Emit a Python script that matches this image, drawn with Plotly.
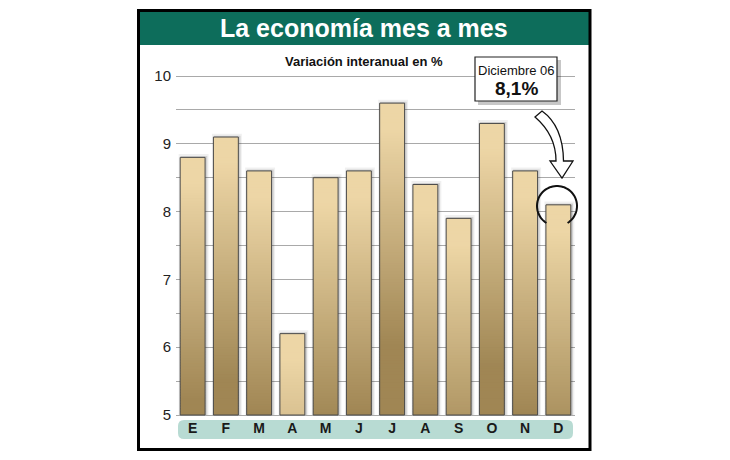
import numpy as np
import plotly.graph_objects as go

months = ["E", "F", "M", "A", "M ", "J", "J ", "A ", "S", "O", "N", "D"]
month_labels = ["E", "F", "M", "A", "M", "J", "J", "A", "S", "O", "N", "D"]
values = [8.8, 9.1, 8.6, 6.2, 8.5, 8.6, 9.6, 8.4, 7.9, 9.3, 8.6, 8.1]
y_ticks = [5, 6, 7, 8, 9, 10]
title_text = "La economía mes a mes"
subtitle_text = "Variación interanual en %"
callout_label = "Diciembre 06"
callout_value = "8,1%"

BASE = 5.0
FONT = "Liberation Sans, Arial, sans-serif"

# plot-area pixel geometry (10 -> y=76, 5 -> y=415, 2px padding each side)
L, R, T, B = 176, 575, 74, 417
W, H = R - L, B - T
UNIT = (415 - 76) / 5.0
PAD = 2 / UNIT


def px(x):
    return (x - L) / W


def py(y):
    return (B - y) / H


light = np.array([237, 214, 166])
dark = np.array([160, 134, 84])


def shade(top, y):
    d = np.clip((top - y - 0.4) / 3.2, 0, 1)
    c = light * (1 - d) + dark * d
    return "rgb(%d,%d,%d)" % tuple(c.astype(int))


# gradient segments built from the data
seg_x, seg_base, seg_h, seg_c = [], [], [], []
step = 0.04
for m, v in zip(months, values):
    b = BASE
    while b < v - 1e-9:
        h = min(step * 1.6, v - b)
        seg_x.append(m)
        seg_base.append(b)
        seg_h.append(h)
        seg_c.append(shade(v, b + step / 2))
        b += step

heights = [v - BASE for v in values]
fig = go.Figure()

# soft shadows
fig.add_trace(go.Bar(x=months, y=[h + 0.05 for h in heights], base=BASE,
                     width=0.9, offset=-0.42,
                     marker=dict(color="rgba(0,0,0,0.06)", line=dict(width=0)),
                     hoverinfo="skip"))
fig.add_trace(go.Bar(x=months, y=[h + 0.02 for h in heights], base=BASE,
                     width=0.8, offset=-0.36,
                     marker=dict(color="rgba(0,0,0,0.12)", line=dict(width=0)),
                     hoverinfo="skip"))
# gradient fill
fig.add_trace(go.Bar(x=seg_x, y=seg_h, base=seg_base, width=0.75,
                     marker=dict(color=seg_c, line=dict(width=0)),
                     hoverinfo="skip"))
# outline
fig.add_trace(go.Bar(x=months, y=heights, base=BASE, width=0.75,
                     marker=dict(color="rgba(0,0,0,0)",
                                 line=dict(color="#4a4a4a", width=1)),
                     hovertemplate="%{x}: %{y}<extra></extra>"))

shapes = []
# header band and frame
shapes.append(dict(type="rect", xref="paper", yref="paper",
                   x0=px(139), x1=px(590), y0=py(11), y1=py(45),
                   fillcolor="#0d6d5b", line=dict(width=0), layer="below"))
shapes.append(dict(type="rect", xref="paper", yref="paper",
                   x0=px(138.5), x1=px(590), y0=py(10.5), y1=py(449.5),
                   fillcolor="rgba(0,0,0,0)", line=dict(color="#000", width=3)))

# rounded band for month labels
x0, x1, y0, y1, r = 178, 573, 420, 439, 6
path = (f"M {px(x0 + r)},{py(y0)} L {px(x1 - r)},{py(y0)} "
        f"Q {px(x1)},{py(y0)} {px(x1)},{py(y0 + r)} L {px(x1)},{py(y1 - r)} "
        f"Q {px(x1)},{py(y1)} {px(x1 - r)},{py(y1)} L {px(x0 + r)},{py(y1)} "
        f"Q {px(x0)},{py(y1)} {px(x0)},{py(y1 - r)} L {px(x0)},{py(y0 + r)} "
        f"Q {px(x0)},{py(y0)} {px(x0 + r)},{py(y0)} Z")
shapes.append(dict(type="path", xref="paper", yref="paper", path=path,
                   fillcolor="#b8dbd3", line=dict(width=0), layer="below"))

# callout box with shadow
bx0, bx1, by0, by1 = 475, 557, 57, 101
shapes.append(dict(type="rect", xref="paper", yref="paper",
                   x0=px(bx0 + 3), x1=px(bx1 + 4), y0=py(by0 + 3), y1=py(by1 + 4),
                   fillcolor="rgba(0,0,0,0.22)", line=dict(width=0)))
shapes.append(dict(type="rect", xref="paper", yref="paper",
                   x0=px(bx0), x1=px(bx1), y0=py(by0), y1=py(by1),
                   fillcolor="white", line=dict(color="#222", width=1.2)))

# curved arrow
pts = ("M {a},{b} Q {c},{d} {e},{f} L {g},{h} L {i},{j} L {k},{l} L {m},{n} "
       "Q {o},{p} {q},{r} Z").format(
    a=px(535), b=py(117), c=px(556), d=py(135), e=px(556), f=py(161),
    g=px(550), h=py(161), i=px(562), j=py(178), k=px(573), l=py(161),
    m=px(563.5), n=py(161), o=px(563), p=py(126), q=px(542), r=py(111))
shapes.append(dict(type="path", xref="paper", yref="paper", path=pts,
                   fillcolor="white", line=dict(color="#111", width=1.3)))

# open circle around December bar top
cx, cy, rad = 557, 206, 20
th = np.radians(np.linspace(122, 418, 60))
arc = "M " + " L ".join(f"{px(cx + rad * np.cos(t))},{py(cy + rad * np.sin(t))}"
                         for t in th)
shapes.append(dict(type="path", xref="paper", yref="paper", path=arc,
                   line=dict(color="#111", width=2)))

annotations = [
    dict(text=f"<b>{title_text}</b>", x=px(364), y=py(28), xref="paper", yref="paper",
         showarrow=False, font=dict(family=FONT, size=25, color="white"),
         xanchor="center", yanchor="middle"),
    dict(text=f"<b>{subtitle_text}</b>", x=px(364), y=py(61), xref="paper", yref="paper",
         showarrow=False, font=dict(family=FONT, size=13, color="#111"),
         xanchor="center", yanchor="middle"),
    dict(text=callout_label, x=px(516), y=py(70), xref="paper", yref="paper",
         showarrow=False, font=dict(family=FONT, size=13, color="#111"),
         xanchor="center", yanchor="middle"),
    dict(text=f"<b>{callout_value}</b>", x=px(516), y=py(88), xref="paper", yref="paper",
         showarrow=False, font=dict(family=FONT, size=19, color="#111"),
         xanchor="center", yanchor="middle"),
]

fig.update_layout(
    width=730, height=460,
    margin=dict(l=L, r=730 - R, t=T, b=460 - B),
    paper_bgcolor="white", plot_bgcolor="rgba(0,0,0,0)",
    barmode="overlay", showlegend=False,
    shapes=shapes, annotations=annotations,
    font=dict(family=FONT),
)
fig.update_xaxes(type="category", categoryorder="array", categoryarray=months,
                 tickvals=months, ticktext=month_labels,
                 tickfont=dict(family=FONT, size=14, color="#1a1a1a", weight="bold"),
                 showgrid=False, zeroline=False, showline=False, ticks="",
                 ticklabelstandoff=1, range=[-0.5, 11.5])
fig.update_yaxes(range=[5 - PAD, 10 + PAD], tickvals=y_ticks,
                 ticktext=[str(t) for t in y_ticks],
                 tickfont=dict(family=FONT, size=15, color="#222"),
                 showgrid=True, gridcolor="#a9a9a9", gridwidth=1,
                 minor=dict(dtick=0.5, showgrid=True, gridcolor="#a9a9a9", gridwidth=1),
                 zeroline=False, showline=False, ticks="", ticklabelstandoff=4)

fig.write_html("out.html")
